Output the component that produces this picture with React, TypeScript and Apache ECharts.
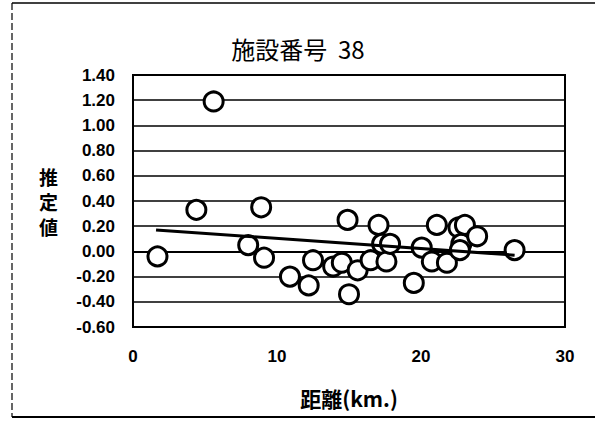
import React, { useEffect, useRef } from "react";
import * as echarts from "echarts";

const titleText = "施設番号  38";
const xAxisTitle = "距離(km.)";
const yAxisTitle = "推\n定\n値";

const distances = [
  1.7, 4.4, 5.6, 8.0, 8.9, 9.1, 10.9, 12.2, 12.5, 13.9, 14.5, 14.9, 15.0, 15.6,
  16.5, 17.05, 17.3, 17.6, 17.85, 19.5, 20.05, 20.75, 21.1, 21.8, 22.6, 22.8,
  22.7, 23.05, 23.9, 26.5,
];
const estimates = [
  -0.04, 0.33, 1.19, 0.05, 0.35, -0.05, -0.2, -0.27, -0.07, -0.12, -0.09, 0.25,
  -0.34, -0.15, -0.07, 0.21, 0.06, -0.08, 0.06, -0.25, 0.03, -0.08, 0.21, -0.09,
  0.19, 0.06, 0.01, 0.21, 0.12, 0.01,
];

const trendX = [1.6, 26.5];
const trendY = [0.17, -0.03];

const xTicks = { min: 0, max: 30, interval: 10 };
const yTicks = { min: -0.6, max: 1.4, interval: 0.2 };

export default function App() {
  const ref = useRef<HTMLDivElement>(null);
  useEffect(() => {
    if (!ref.current) return;
    const chart = echarts.init(ref.current, null, { renderer: "svg" });
    const labelFont = {
      color: "#000",
      fontSize: 17,
      fontWeight: "bold" as const,
      fontFamily: "Liberation Sans, Arial, sans-serif",
    };
    chart.setOption({
      animation: false,
      backgroundColor: "#fff",
      title: {
        text: titleText,
        left: 293,
        top: 31,
        textAlign: "center",
        textStyle: {
          fontSize: 24,
          fontWeight: "normal",
          color: "#000",
          fontFamily: "Noto Sans CJK JP, sans-serif",
        },
      },
      grid: { left: 133, right: 30, top: 75, bottom: 96, show: true, borderColor: "#000", borderWidth: 2, backgroundColor: "transparent" },
      xAxis: {
        type: "value",
        min: xTicks.min,
        max: xTicks.max,
        interval: xTicks.interval,
        name: xAxisTitle,
        nameLocation: "middle",
        nameGap: 60,
        nameTextStyle: {
          fontSize: 21,
          fontWeight: "bold",
          color: "#000",
          fontFamily: "Noto Sans CJK JP, sans-serif",
        },
        axisLine: { show: true, lineStyle: { color: "#000", width: 2 } },
        axisTick: { show: false },
        splitLine: { show: false },
        axisLabel: { ...labelFont, margin: 21 },
      },
      yAxis: {
        type: "value",
        min: yTicks.min,
        max: yTicks.max,
        interval: yTicks.interval,
        name: yAxisTitle,
        nameLocation: "middle",
        nameRotate: 0,
        nameGap: 75,
        nameTextStyle: {
          fontSize: 19,
          lineHeight: 25,
          fontWeight: "bold",
          color: "#000",
          fontFamily: "Noto Sans CJK JP, sans-serif",
        },
        axisLine: { show: true, lineStyle: { color: "#000", width: 2 } },
        axisTick: { show: false },
        splitLine: { show: true, lineStyle: { color: "#000", width: 1.5 } },
        axisLabel: {
          ...labelFont,
          margin: 18,
          formatter: (v: number) => v.toFixed(2),
        },
      },
      series: [
        {
          type: "scatter",
          data: distances.map((d, i) => [d, estimates[i]]),
          symbol: "circle",
          symbolSize: 19,
          itemStyle: { color: "#fff", borderColor: "#000", borderWidth: 3, opacity: 1 },
          z: 2,
        },
        {
          type: "line",
          data: trendX.map((x, i) => [x, trendY[i]]),
          showSymbol: false,
          symbol: "none",
          lineStyle: { color: "#000", width: 3 },
          z: 3,
        },
      ],
      graphic: [
        { type: "line", shape: { x1: 12, y1: 3, x2: 595, y2: 3 }, style: { stroke: "#000", lineWidth: 1.5 } },
        { type: "line", shape: { x1: 12, y1: 3, x2: 12, y2: 417 }, style: { stroke: "#000", lineWidth: 1.2, lineDash: [7, 3] } },
        { type: "line", shape: { x1: 12, y1: 417, x2: 595, y2: 417 }, style: { stroke: "#000", lineWidth: 2 } },
      ],
    });
    return () => chart.dispose();
  }, []);
  return (
    <div
      ref={ref}
      style={{ position: "fixed", left: 0, top: 0, width: 595, height: 423, background: "#fff" }}
    />
  );
}
